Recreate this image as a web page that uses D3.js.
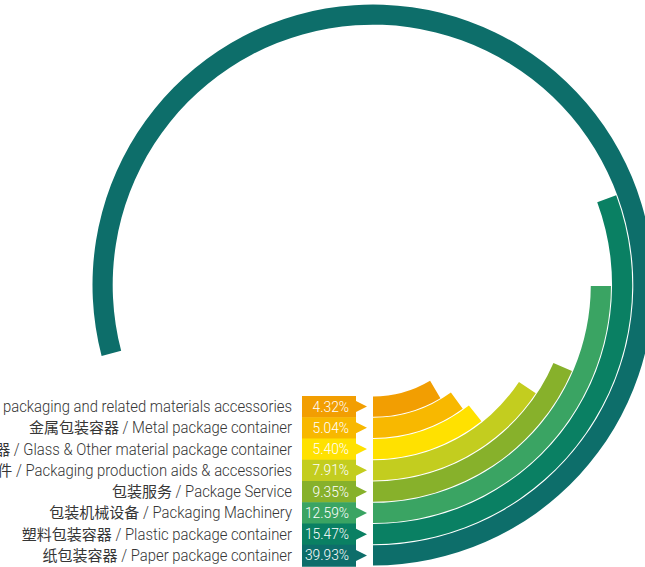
<!DOCTYPE html>
<html><head><meta charset="utf-8">
<script src="https://cdn.jsdelivr.net/npm/d3@7"></script>
<style>
html,body{margin:0;padding:0;background:#fff;overflow:hidden;}
svg{display:block;}
</style></head>
<body>
<svg id="chart" width="645" height="567"></svg>
<script>
// Data (innermost to outermost)
const categories = [
  "包装原辅材料 / Raw packaging and related materials accessories",
  "金属包装容器 / Metal package container",
  "玻璃及其他材料包装容器 / Glass & Other material package container",
  "包装生产辅助材料及配件 / Packaging production aids & accessories",
  "包装服务 / Package Service",
  "包装机械设备 / Packaging Machinery",
  "塑料包装容器 / Plastic package container",
  "纸包装容器 / Paper package container"
];
const values = [4.32, 5.04, 5.40, 7.91, 9.35, 12.59, 15.47, 39.93];
const colors = ["#f29e02", "#f8b800", "#ffe100", "#c3cd1f", "#87b12b", "#3aa463", "#0a8063", "#0d6e6a"];
const valueLabels = ["4.32%", "5.04%", "5.40%", "7.91%", "9.35%", "12.59%", "15.47%", "39.93%"];

const svg = d3.select("#chart");
const cx = 373, cy = 285;

const rScale = d3.scaleBand().domain(categories).range([111.5, 280.5]).paddingInner(0.05).paddingOuter(0);
const aScale = d3.scaleLinear().domain([0, 50.5]).range([0, 2 * Math.PI]);

const g = svg.append("g").attr("transform", `translate(${cx},${cy})`);
const arc = d3.arc()
  .innerRadius(d => rScale(d.c))
  .outerRadius(d => rScale(d.c) + rScale.bandwidth())
  .startAngle(Math.PI)
  .endAngle(d => Math.PI - aScale(d.v));

const data = categories.map((c, i) => ({c, v: values[i], col: colors[i], lab: valueLabels[i]}));

g.selectAll("path.ring").data(data).join("path")
  .attr("class", "ring")
  .attr("d", arc)
  .attr("fill", d => d.col);

// Label tags
const step = rScale.step();
const boxX0 = 302, boxX1 = 356, tipX = 367;
const tags = svg.append("g");
const row = tags.selectAll("g.row").data(data).join("g")
  .attr("class", "row")
  .attr("transform", d => `translate(0,${cy + rScale(d.c) - rScale.paddingInner() * step / 2})`);

row.append("path")
  .attr("d", () => {
    const h = step, m = h / 2, a = 5.5;
    return `M${boxX0},0H${boxX1}V${m - a}L${tipX},${m}L${boxX1},${m + a}V${h + 0.6}H${boxX0}Z`;
  })
  .attr("fill", d => d.col);

row.append("text")
  .attr("x", 349)
  .attr("y", step / 2 + 5)
  .attr("text-anchor", "end")
  .attr("fill", "#ffffff")
  .style("font-family", "Roboto, sans-serif")
  .style("font-weight", 300)
  .style("font-size", "13.8px")
  .text(d => d.lab);

const textRight = 292, sx = 0.94;
row.each(function(d) {
  const sel = d3.select(this);
  const parts = d.c.split(" / ");
  const en = sel.append("text")
    .attr("transform", `translate(${textRight},${step / 2 + 5.5}) scale(${sx},1)`)
    .attr("text-anchor", "end")
    .attr("fill", "#363636")
    .style("font-family", "Roboto, sans-serif")
    .style("font-weight", 300)
    .style("font-size", "15.8px")
    .text("\u00a0/ " + parts[1]);
  const w = en.node().getComputedTextLength() * sx;
  sel.append("text")
    .attr("x", textRight - w)
    .attr("y", step / 2 + 5.5)
    .attr("text-anchor", "end")
    .attr("fill", "#363636")
    .style("font-family", "'Noto Sans CJK SC', sans-serif")
    .style("font-weight", 400)
    .style("font-size", "15px")
    .text(parts[0]);
});
</script>
</body></html>
